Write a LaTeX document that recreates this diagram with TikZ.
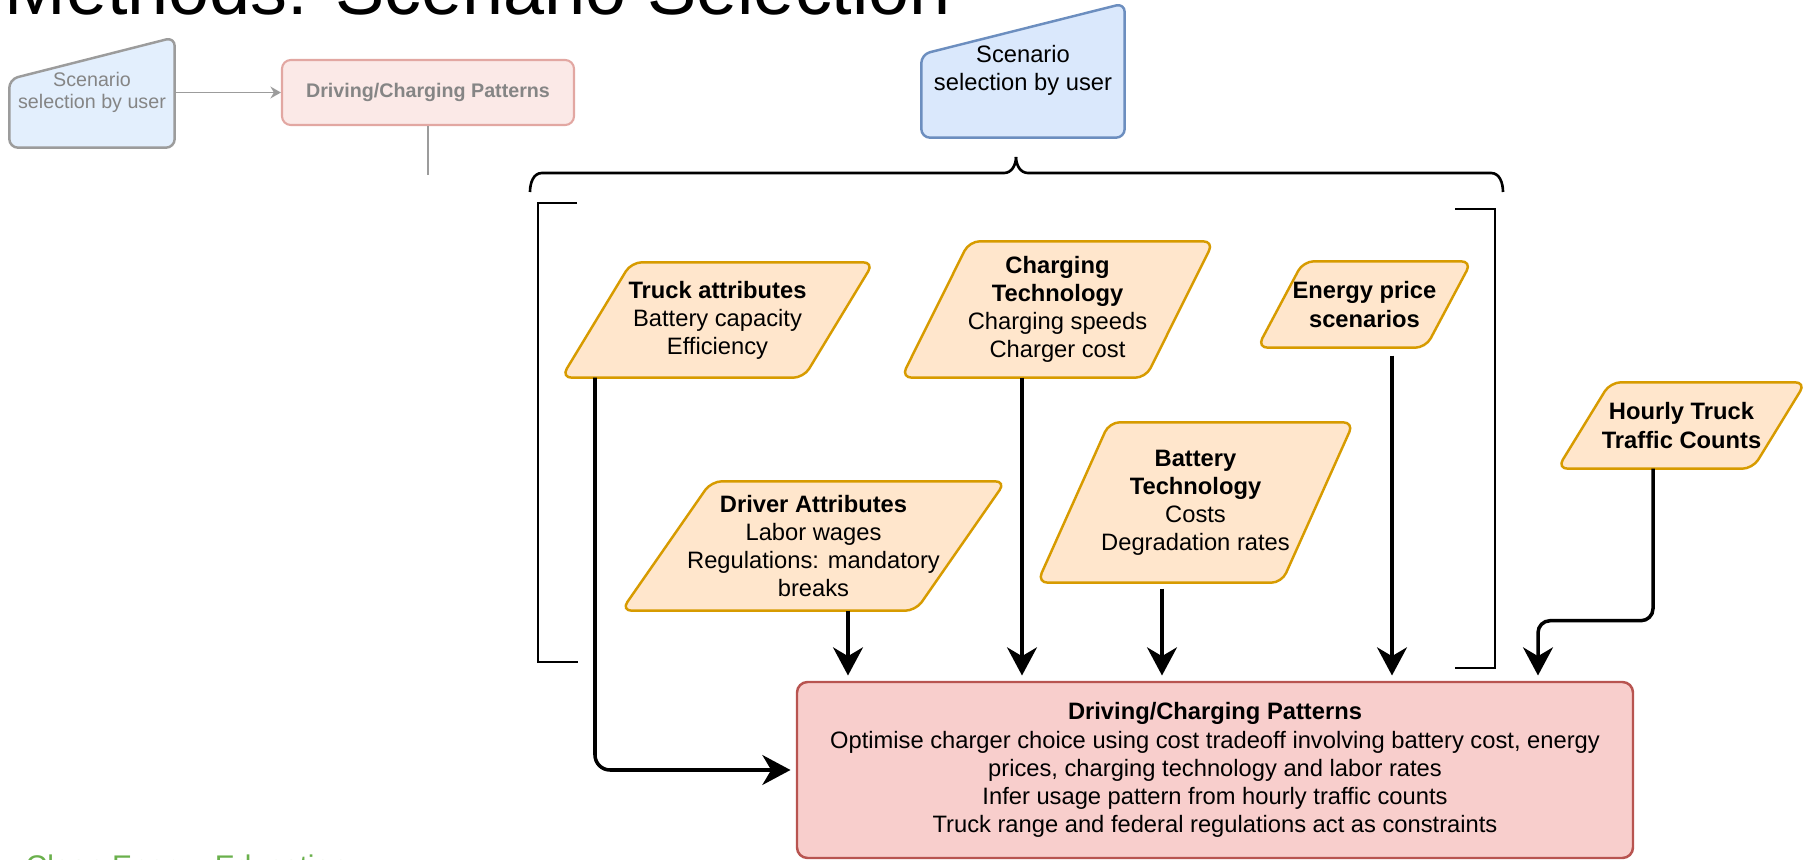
\documentclass[tikz,border=0pt]{standalone}
\usepackage{fontspec}
\setmainfont{Liberation Sans}
\usetikzlibrary{calc,arrows.meta}
\pgfdeclarelayer{back}
\pgfsetlayers{back,main}
\definecolor{paraFill}{HTML}{FFE6CC}
\definecolor{paraLine}{HTML}{D79B00}
\definecolor{pattFill}{HTML}{F8CECC}
\definecolor{pattLine}{HTML}{B85450}
\definecolor{userFill}{HTML}{DAE8FC}
\definecolor{userLine}{HTML}{6C8EBF}
\definecolor{ghostFill}{HTML}{E3EFFD}
\definecolor{ghostLine}{HTML}{9C9C9C}
\definecolor{ghostText}{HTML}{858585}
\definecolor{ghostBoxFill}{HTML}{FBE9E7}
\definecolor{ghostBoxLine}{HTML}{E2A7A2}
\definecolor{footGreen}{HTML}{6AB04C}
\tikzset{>={Stealth[length=8pt,width=8.5pt,inset=2.5pt]}}
\newcommand{\paraoutline}[2]{\draw[paraline] ([xshift=#2]#1.north west) -- (#1.north east) -- ([xshift=-#2]#1.south east) -- (#1.south west) -- cycle;}

\begin{document}
\begin{tikzpicture}[
    txt/.style={align=center,inner sep=0pt,font=\fontsize{6.75}{8}\selectfont},
    gtxt/.style={align=center,inner sep=0pt,text=ghostText,font=\fontsize{5.6}{6.3}\selectfont},
    paraline/.style={draw=paraLine,fill=paraFill,line width=0.7pt,rounded corners=3pt},
    arr/.style={->,line width=1pt,shorten >=1.5pt},
    brk/.style={line width=0.75pt},
  ]
  \useasboundingbox (0,0) rectangle (18.06,-8.60);

  \node[anchor=base west,inner sep=0pt,font=\fontsize{21}{25}\selectfont] at (0.04,-0.14) (title) {Methods: Scenario Selection};
  \node[anchor=base west,inner sep=0pt,text=footGreen,font=\fontsize{8.5}{10}\selectfont] at (0.25,-8.765) (foot) {Clean Energy Education};

  % faded overview
  \node[gtxt,minimum width=1.64cm,minimum height=1.09cm] at (0.92,-0.925) (gscen) {Scenario\\selection by user};
  \node[gtxt,font=\fontsize{5.6}{6.3}\selectfont\bfseries,draw=ghostBoxLine,fill=ghostBoxFill,line width=0.6pt,rounded corners=2.5pt,minimum width=2.92cm,minimum height=0.65cm] at (4.28,-0.925) (gbox) {Driving/Charging Patterns};
  \coordinate (gend) at (4.28,-1.75);
  \draw[-{Stealth[length=3pt,width=3.4pt,inset=1pt]},ghostLine,line width=0.45pt] (gscen) -- (gbox);
  \draw[ghostLine,line width=0.45pt] (gbox) -- (gend);

  % user choice
  \node[txt,minimum width=2.02cm,minimum height=1.33cm] at (10.23,-0.705) (scen) {Scenario\\selection by user};

  \draw[brk] (5.30,-1.92) to[out=90,in=180] (5.42,-1.73) -- (10.04,-1.73) to[out=0,in=-90] (10.16,-1.57);
  \draw[brk] (15.03,-1.92) to[out=90,in=0] (14.91,-1.73) -- (10.28,-1.73) to[out=180,in=-90] (10.16,-1.57);
  \draw[brk] (5.77,-2.03) -- (5.38,-2.03) -- (5.38,-6.62) -- (5.78,-6.62);
  \draw[brk] (14.55,-2.09) -- (14.95,-2.09) -- (14.95,-6.68) -- (14.55,-6.68);

  % inputs
  \node[txt,minimum width=3.11cm,minimum height=1.14cm] at (7.175,-3.20) (truck) {\textbf{Truck attributes}\\Battery capacity\\Efficiency};
  \node[txt,minimum width=3.11cm,minimum height=1.35cm] at (10.575,-3.095) (charge) {\textbf{Charging}\\\textbf{Technology}\\Charging speeds\\Charger cost};
  \node[txt,minimum width=2.13cm,minimum height=0.85cm] at (13.645,-3.045) (energy) {\textbf{Energy price}\\\textbf{scenarios}};
  \node[txt,minimum width=2.47cm,minimum height=0.85cm] at (16.815,-4.255) (hourly) {\textbf{Hourly Truck}\\\textbf{Traffic Counts}};
  \node[txt,minimum width=3.83cm,minimum height=1.28cm] at (8.135,-5.46) (driver) {\textbf{Driver Attributes}\\Labor wages\\Regulations: mandatory\\breaks};
  \node[txt,minimum width=3.15cm,minimum height=1.59cm] at (11.955,-5.025) (battery) {\textbf{Battery}\\\textbf{Technology}\\Costs\\Degradation rates};

  \node[txt,draw=pattLine,fill=pattFill,line width=0.7pt,rounded corners=3pt,minimum width=8.36cm,minimum height=1.76cm] at (12.15,-7.70) (patt) {\textbf{Driving/Charging Patterns}\\Optimise charger choice using cost tradeoff involving battery cost, energy\\prices, charging technology and labor rates\\Infer usage pattern from hourly traffic counts\\Truck range and federal regulations act as constraints};

  \begin{pgfonlayer}{back}
    \draw[ghostLine,fill=ghostFill,line width=0.7pt,rounded corners=2.5pt] (gscen.south west) -- (gscen.south east) -- (gscen.north east) -- ($(gscen.north west)!0.38!(gscen.south west)$) -- cycle;
    \draw[userLine,fill=userFill,line width=0.7pt,rounded corners=2.5pt] (scen.south west) -- (scen.south east) -- (scen.north east) -- ($(scen.north west)!0.38!(scen.south west)$) -- cycle;
    \paraoutline{truck}{0.70cm}
    \paraoutline{charge}{0.68cm}
    \paraoutline{energy}{0.46cm}
    \paraoutline{hourly}{0.53cm}
    \paraoutline{driver}{0.90cm}
    \paraoutline{battery}{0.72cm}
  \end{pgfonlayer}

  \draw[arr,rounded corners=0.15cm] ([xshift=-1.225cm]truck.south) |- (patt.west);
  \draw[arr] ([xshift=0.345cm]driver.south) -- ([xshift=0.345cm]driver.south |- patt.north);
  \draw[arr] ([xshift=-0.355cm]charge.south) -- ([xshift=-0.355cm]charge.south |- patt.north);
  \draw[arr] ([xshift=-0.335cm,yshift=-0.06cm]battery.south) -- ([xshift=-0.335cm]battery.south |- patt.north);
  \draw[arr] ([xshift=0.275cm,yshift=-0.08cm]energy.south) -- ([xshift=0.275cm]energy.south |- patt.north);
  \draw[arr,rounded corners=0.12cm] ([xshift=-0.285cm]hourly.south) -- ++(0,-1.52) -| ([xshift=3.23cm]patt.north);
\end{tikzpicture}
\end{document}
